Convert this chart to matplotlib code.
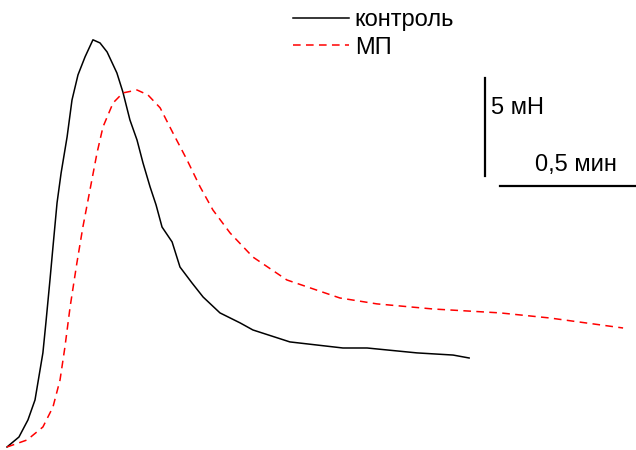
import matplotlib.pyplot as plt

plt.rcParams['font.family'] = ['Liberation Sans', 'DejaVu Sans']

# time, min
t_ctrl = [0, 0.044, 0.077, 0.103, 0.132, 0.143, 0.158, 0.169, 0.184, 0.199,
          0.221, 0.239, 0.261, 0.287, 0.316, 0.342, 0.368, 0.404, 0.426, 0.452,
          0.478, 0.500, 0.526, 0.548, 0.570, 0.607, 0.636, 0.680, 0.721, 0.783,
          0.857, 0.904, 1.040, 1.235, 1.324, 1.507, 1.640, 1.699]
# force, mN
f_ctrl = [0, 0.51, 1.38, 2.40, 4.80, 6.33, 8.52, 10.20, 12.45, 13.98,
          15.82, 17.70, 18.98, 19.90, 20.77, 20.61, 20.15, 19.08, 18.11, 16.68,
          15.66, 14.49, 13.27, 12.35, 11.22, 10.46, 9.18, 8.37, 7.65, 6.84,
          6.33, 5.97, 5.36, 5.05, 5.05, 4.80, 4.69, 4.54]

t_mp = [0, 0.074, 0.132, 0.169, 0.195, 0.213, 0.232, 0.257, 0.279, 0.305,
        0.331, 0.353, 0.390, 0.426, 0.478, 0.518, 0.563, 0.610, 0.662, 0.710,
        0.757, 0.820, 0.904, 1.029, 1.224, 1.360, 1.566, 1.813, 1.996, 2.265]
f_mp = [0, 0.36, 1.02, 2.04, 3.42, 5.10, 7.14, 9.39, 11.22, 13.11,
        15.00, 16.33, 17.55, 18.06, 18.21, 17.96, 17.30, 16.02, 14.64, 13.27,
        12.09, 10.92, 9.69, 8.52, 7.60, 7.30, 7.04, 6.84, 6.58, 6.07]

labels = ['контроль', 'МП']

# scale bars
bar_force = 5      # mN
bar_time = 0.5     # min

fig = plt.figure(figsize=(6.36, 4.5), dpi=100)
ax = fig.add_axes([0, 0, 1, 1])
ax.set_xlim(-0.0257, 2.3125)
ax.set_ylim(-0.153, 22.8)
ax.axis('off')

ax.plot(t_ctrl, f_ctrl, color='black', lw=1.1, label=labels[0])
ax.plot(t_mp, f_mp, color='red', lw=1.1, linestyle=(0, (5, 3.5)), label=labels[1])

# vertical bar: 5 mN
vx = 1.757
vy0 = 13.83
ax.plot([vx, vx], [vy0, vy0 + bar_force], color='black', lw=1.6)
ax.text(1.780, 17.27, '5 мН', fontsize=17, va='center', ha='left')

# horizontal bar: 0.5 min
hx0 = 1.8125
hy = 13.32
ax.plot([hx0, hx0 + bar_time], [hy, hy], color='black', lw=1.6)
ax.text(1.941, 14.36, '0,5 мин', fontsize=17, va='center', ha='left')

ax.legend(loc='upper left', bbox_to_anchor=(0.4607, 0.98), frameon=False,
          fontsize=17, handlelength=2.37, handletextpad=0.25, labelspacing=0.235,
          borderaxespad=0, borderpad=0)

fig.savefig('out.png', dpi=100)
